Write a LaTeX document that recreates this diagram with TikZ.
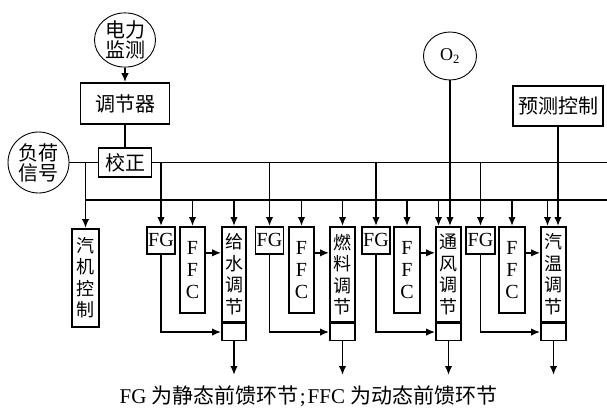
\documentclass[tikz,border=0pt]{standalone}
\usepackage{fontspec}
\setmainfont{Liberation Serif}
\newfontfamily\cjk{Noto Sans CJK SC}
\usetikzlibrary{arrows.meta, positioning, shapes.geometric}

\begin{document}
\begin{tikzpicture}[x=1pt, y=-1pt,
  line width=1.7pt,
  arr/.style={-{Latex[length=9pt, width=7.5pt]}},
  ring/.style={ellipse, draw=black, line width=0.9pt, inner sep=0pt, align=center, font=\cjk\fontsize{20}{20}\selectfont},
  box/.style={rectangle, draw=black, inner sep=0pt, font=\cjk\fontsize{20}{20}\selectfont},
  vbox/.style={rectangle, draw=black, inner sep=0pt, align=center, anchor=north, font=\cjk\fontsize{18}{21.5}\selectfont},
  lbox/.style={rectangle, draw=black, inner sep=0pt, align=center, anchor=north, font=\fontsize{20}{22}\selectfont}]
  \useasboundingbox (0,0) rectangle (607,409);

  % inputs
  \node[ring, minimum width=61pt, minimum height=54pt] (dl) at (125, 40) {电力\\监测};
  \node[box, minimum width=89pt, minimum height=41pt] (tj) at (125, 103.5) {调节器};
  \node[box, minimum width=53pt, minimum height=29pt] (jz) at (125, 162.5) {校正};
  \node[ring, minimum width=61pt, minimum height=61pt] (fh) at (38.5, 162.5) {负荷\\信号};
  \node[ring, minimum width=53pt, minimum height=48pt, font=\fontsize{18}{18}\selectfont] (o2) at (450, 56) {O\textsubscript{2}};
  \node[box, minimum width=90pt, minimum height=40pt] (yc) at (558, 106) {预测控制};

  % controllers
  \node[vbox, minimum width=27pt, minimum height=98pt] (qj) at (85.5, 228) {汽\\机\\控\\制};

  \node[lbox, minimum width=28pt, minimum height=27pt] (fg1) at (161, 226) {FG};
  \node[lbox, minimum width=25pt, minimum height=86pt] (ffc1) at (192.5, 226) {F\\F\\C};
  \node[vbox, minimum width=24pt, minimum height=95pt] (reg1) at (234, 226) {给\\水\\调\\节};
  \node[box, minimum width=24pt, minimum height=17pt, below=0pt of reg1] (regb1) {};

  \node[lbox, minimum width=28pt, minimum height=27pt] (fg2) at (269.5, 226) {FG};
  \node[lbox, minimum width=25pt, minimum height=86pt] (ffc2) at (301.5, 226) {F\\F\\C};
  \node[vbox, minimum width=25pt, minimum height=95pt] (reg2) at (342.5, 226) {燃\\料\\调\\节};
  \node[box, minimum width=25pt, minimum height=17pt, below=0pt of reg2] (regb2) {};

  \node[lbox, minimum width=28pt, minimum height=27pt] (fg3) at (376, 226) {FG};
  \node[lbox, minimum width=26pt, minimum height=86pt] (ffc3) at (407, 226) {F\\F\\C};
  \node[vbox, minimum width=25pt, minimum height=95pt] (reg3) at (448.5, 226) {通\\风\\调\\节};
  \node[box, minimum width=25pt, minimum height=17pt, below=0pt of reg3] (regb3) {};

  \node[lbox, minimum width=29pt, minimum height=27pt] (fg4) at (480.5, 226) {FG};
  \node[lbox, minimum width=26pt, minimum height=86pt] (ffc4) at (512, 226) {F\\F\\C};
  \node[vbox, minimum width=25pt, minimum height=95pt] (reg4) at (553.5, 226) {汽\\温\\调\\节};
  \node[box, minimum width=25pt, minimum height=17pt, below=0pt of reg4] (regb4) {};

  \node[inner sep=0pt, font=\fontsize{21}{21}\selectfont] (cap) at (308.5, 396.5) {FG {\cjk 为静态前馈环节}\kern1pt;\kern2pt FFC {\cjk 为动态前馈环节}};

  % buses
  \coordinate (upR) at (607, 162.5);
  \coordinate (loL) at (85.5, 200);
  \coordinate (loR) at (607, 200);
  \coordinate (outY) at (0, 375);
  \coordinate (in3) at ([xshift=-10pt]reg3.north);
  \coordinate (in4) at ([xshift=-6pt]reg4.north);
  \coordinate (f1) at ([yshift=17pt]ffc1.east);
  \coordinate (f2) at ([yshift=17pt]ffc2.east);
  \coordinate (f3) at ([yshift=17pt]ffc3.east);
  \coordinate (f4) at ([yshift=17pt]ffc4.east);

  \draw[arr] (dl) -- (tj);
  \draw (tj) -- (jz);
  \draw (fh) -- (jz);
  \draw (jz) -- (upR);
  \draw[arr] (qj.north |- jz) -- (qj);
  \draw (loL) -- (loR);

  \draw[arr] (fg1 |- upR) -- (fg1);
  \draw[arr] (fg2 |- upR) -- (fg2);
  \draw[arr] (fg3 |- upR) -- (fg3);
  \draw[arr] (fg4 |- upR) -- (fg4);

  \draw[arr] (ffc1 |- loR) -- (ffc1);
  \draw[arr] (ffc2 |- loR) -- (ffc2);
  \draw[arr] (ffc3 |- loR) -- (ffc3);
  \draw[arr] (ffc4 |- loR) -- (ffc4);
  \draw[arr] (reg1 |- loR) -- (reg1);
  \draw[arr] (reg2 |- loR) -- (reg2);
  \draw[arr] (in3 |- loR) -- (in3);
  \draw[arr] (in4 |- loR) -- (in4);

  \draw[arr] (o2) -- (o2 |- reg3.north);
  \draw[arr] (yc) -- (yc |- reg4.north);

  \draw[arr] (f1) -- (f1 -| reg1.west);
  \draw[arr] (f2) -- (f2 -| reg2.west);
  \draw[arr] (f3) -- (f3 -| reg3.west);
  \draw[arr] (f4) -- (f4 -| reg4.west);

  \draw[arr] (fg1) |- (regb1);
  \draw[arr] (fg2) |- (regb2);
  \draw[arr] (fg3) |- (regb3);
  \draw[arr] (fg4) |- (regb4);

  \draw[arr] (regb1) -- (regb1 |- outY);
  \draw[arr] (regb2) -- (regb2 |- outY);
  \draw[arr] (regb3) -- (regb3 |- outY);
  \draw[arr] (regb4) -- (regb4 |- outY);
\end{tikzpicture}
\end{document}
